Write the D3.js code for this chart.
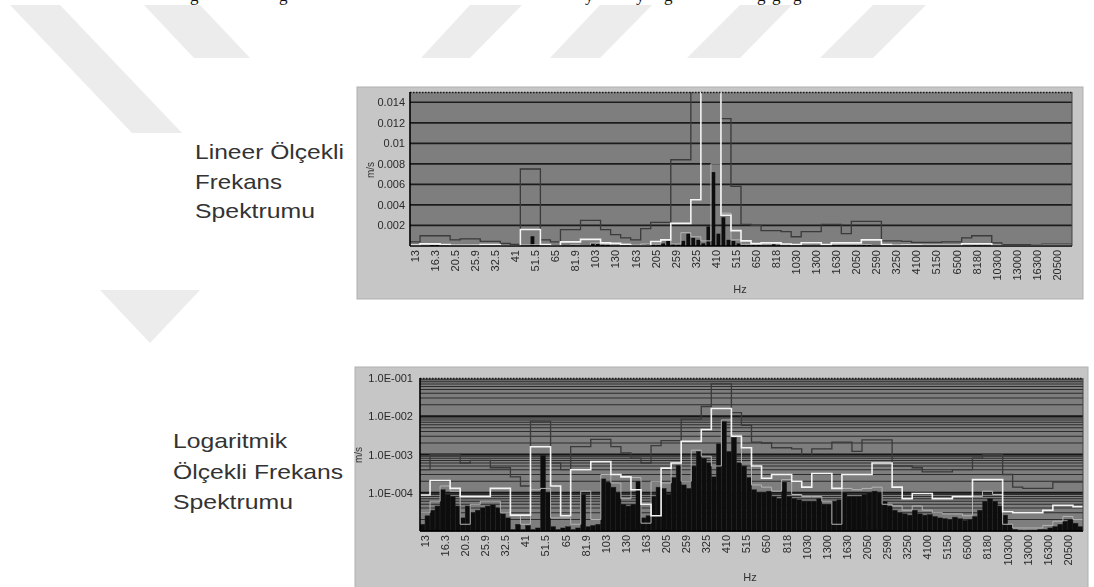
<!DOCTYPE html>
<html>
<head>
<meta charset="utf-8">
<script src="https://cdn.jsdelivr.net/npm/d3@7"></script>
<style>
  html, body { margin: 0; padding: 0; background: #fff; }
  svg { display: block; }
</style>
</head>
<body>
<svg id="page" width="1094" height="587"></svg>
<script>
// 1/3-octave centre frequencies labelled on the x axis (every second 1/6-octave bin)
const bandLabels = ["13","16.3","20.5","25.9","32.5","41","51.5","65","81.9","103","130","163",
  "205","259","325","410","515","650","818","1030","1300","1630","2050","2590","3250","4100",
  "5150","6500","8180","10300","13000","16300","20500"];

// 1/6-octave envelope levels (m/s), dark grey trace
const darkLine = [
  4.0e-4, 1.0e-3, 1.0e-3, 1.0e-3, 6e-4, 7e-4, 7e-4, 4.5e-4, 4.5e-4, 2.6e-4,
  1.5e-4, 7.5e-3, 7.5e-3, 6e-4, 4e-4, 1.6e-3, 1.6e-3, 2.5e-3, 2.5e-3, 1.6e-3,
  1.1e-3, 8e-4, 6e-4, 1.7e-3, 2.3e-3, 2.3e-3, 8.4e-3, 8.4e-3, 1.8e-2, 7e-2,
  7e-2, 1.24e-2, 5.8e-3, 2.1e-3, 2.0e-3, 1.5e-3, 1.5e-3, 1.4e-3, 9e-4, 1.4e-3,
  1.4e-3, 2.1e-3, 2.1e-3, 1.2e-3, 2.4e-3, 2.4e-3, 2.4e-3, 5e-4, 5e-4, 4.5e-4,
  3.5e-4, 3.5e-4, 3.5e-4, 4e-4, 4e-4, 8e-4, 1.0e-3, 1.0e-3, 3e-4, 1.4e-4,
  1.3e-4, 1.3e-4, 1.3e-4, 1.9e-4, 1.9e-4, 1.9e-4];

// 1/6-octave levels (m/s), white trace
const whiteLine = [
  8.7e-5, 2.1e-4, 2.1e-4, 1.3e-4, 8e-5, 8e-5, 8e-5, 1.3e-4, 1.3e-4, 2.6e-5,
  2.6e-5, 1.6e-3, 1.6e-3, 1.5e-4, 2.5e-5, 4e-4, 4e-4, 6.5e-4, 6.5e-4, 3e-4,
  2.6e-4, 1.2e-4, 5e-5, 2.5e-5, 4.4e-4, 6e-4, 2.2e-3, 2.2e-3, 4.5e-3, 1.6e-2,
  1.6e-2, 3e-3, 1.5e-3, 5e-4, 2.4e-4, 3e-4, 3e-4, 2e-4, 1.4e-4, 3.2e-4,
  3.2e-4, 1.3e-4, 3e-4, 3e-4, 3e-4, 6e-4, 6e-4, 1.4e-4, 7e-5, 9.6e-5,
  9.6e-5, 7e-5, 7e-5, 8e-5, 8e-5, 2.2e-4, 2.2e-4, 2.2e-4, 3.2e-5, 3e-5,
  3e-5, 3e-5, 3.5e-5, 4.7e-5, 4.7e-5, 4.3e-5];

// 1/6-octave levels (m/s), light grey trace
const lightLine = [
  3e-5, 6e-5, 1.5e-4, 1.1e-4, 1.5e-5, 5e-5, 6e-5, 6e-5, 3e-5, 2.5e-5,
  1.5e-5, 1.2e-4, 1.3e-4, 2.2e-5, 2.2e-5, 1.5e-5, 1.1e-4, 2e-5, 3e-4, 1.8e-4,
  7e-5, 2.5e-4, 1.6e-5, 2e-4, 1.8e-4, 6e-4, 2e-4, 1.3e-3, 9e-4, 5e-4,
  8e-3, 3.2e-3, 6e-4, 1.6e-4, 1.4e-4, 1.1e-4, 2.2e-4, 9e-5, 8e-5, 8e-5,
  6e-5, 1.5e-5, 1.3e-4, 1.2e-4, 1.3e-4, 1.4e-4, 5e-5, 4.5e-5, 3.5e-5, 4.5e-5,
  3.5e-5, 3e-5, 2.8e-5, 2.8e-5, 2.5e-5, 8e-5, 1.1e-4, 9e-5, 1.5e-5, 1.2e-5,
  1.2e-5, 1.2e-5, 1.4e-5, 1.8e-5, 2.4e-5, 2e-5];

// 1/12-octave spectrum (m/s), black bars
const blackBars = [
  1.5e-5, 2.5e-5, 3.5e-5, 4.5e-5, 1.2e-4, 9e-5, 8e-5, 4.5e-5, 2.2e-5, 4.5e-5,
  3e-5, 3.5e-5, 4e-5, 4.5e-5, 4.8e-5, 4e-5, 2.8e-5, 2.2e-5, 1.1e-5, 1.5e-5,
  1.1e-5, 1.4e-5, 1.1e-5, 1.2e-5, 9.5e-4, 1.0e-4, 1.3e-5, 1.1e-5, 1.2e-5, 1.3e-5,
  1.1e-5, 1.2e-5, 9e-5, 1.3e-5, 1.4e-5, 1.5e-5, 2.3e-4, 1.9e-4, 1.4e-4, 1.0e-4,
  5e-5, 4.5e-5, 5e-5, 2.0e-4, 2.2e-5, 2.5e-5, 8e-5, 1.4e-4, 1.3e-4, 9e-5,
  2.5e-4, 5.2e-4, 1.6e-4, 1.3e-4, 5e-4, 1.2e-3, 8e-4, 6e-4, 2.6e-4, 1.9e-3,
  7.2e-3, 1.2e-3, 2.8e-3, 6e-4, 5e-4, 2.5e-4, 1.2e-4, 1.0e-4, 1.0e-4, 1.1e-4,
  8e-5, 7e-5, 1.9e-4, 8e-5, 7e-5, 6.5e-5, 6e-5, 6e-5, 6e-5, 7e-5,
  5e-5, 5e-5, 6e-5, 6.5e-5, 1.0e-4, 8e-5, 8e-5, 8e-5, 9e-5, 1.0e-4,
  1.1e-4, 1.0e-4, 6e-5, 4.5e-5, 3.5e-5, 3e-5, 2.8e-5, 2.6e-5, 3.5e-5, 2.8e-5,
  2.6e-5, 2.7e-5, 2.4e-5, 2.2e-5, 2.1e-5, 2.0e-5, 2.3e-5, 2.1e-5, 1.9e-5, 2.0e-5,
  2.4e-5, 3.5e-5, 6e-5, 7e-5, 6e-5, 4.5e-5, 2.6e-5, 1.5e-5, 1.1e-5, 1.05e-5,
  1.0e-5, 1.05e-5, 1.05e-5, 1.1e-5, 1.1e-5, 1.2e-5, 1.3e-5, 1.5e-5, 1.8e-5, 2.0e-5,
  1.6e-5, 1.3e-5];

const linearTicks = [0.002, 0.004, 0.006, 0.008, 0.01, 0.012, 0.014];
const logTicks = [1e-4, 1e-3, 1e-2, 1e-1];
const logTickLabels = ["1.0E-004", "1.0E-003", "1.0E-002", "1.0E-001"];

const captionLinear = ["Lineer Ölçekli", "Frekans", "Spektrumu"];
const captionLog = ["Logaritmik", "Ölçekli Frekans", "Spektrumu"];

const svg = d3.select("#page");
const W = 1094, H = 587;
const defs = svg.append("defs");
defs.append("filter").attr("id", "soft")
  .attr("x", "-2%").attr("y", "-2%").attr("width", "104%").attr("height", "104%")
  .append("feGaussianBlur").attr("stdDeviation", 0.55);

svg.append("rect").attr("width", W).attr("height", H).attr("fill", "#fff");

// faint diagonal background strokes of the page
const stripes = [
  [[10, 5], [60, 5], [182, 133], [132, 133]],
  [[144, 5], [200, 5], [250, 58], [194, 58]],
  [[470, 5], [522, 5], [470, 58], [421, 58]],
  [[600, 5], [652, 5], [600, 58], [550, 58]],
  [[740, 5], [792, 5], [740, 58], [687, 58]],
  [[873, 5], [926, 5], [873, 58], [820, 58]],
  [[100, 290], [200, 290], [150, 343]]
];
svg.append("g").attr("fill", "#ececec")
  .selectAll("polygon").data(stripes).join("polygon")
  .attr("points", d => d.map(p => p.join(",")).join(" "));

// tail of the preceding text line, cut at the top edge
const topLine = svg.append("g")
  .attr("font-family", "'Liberation Serif', 'DejaVu Serif', serif")
  .attr("font-size", 17).attr("fill", "#111");
[["ğ", 190], ["g", 279], ["y", 585], ["y", 636], ["g", 664], ["g", 757], ["g", 772], ["g", 793]]
  .forEach(([t, x]) => topLine.append("text").attr("x", x).attr("y", 0.5).text(t));

// captions to the left of each chart
function caption(lines, x, baselines, widths) {
  const g = svg.append("g")
    .attr("font-family", "'Liberation Sans', Arial, sans-serif")
    .attr("font-size", 21).attr("fill", "#333");
  lines.forEach((t, i) => {
    g.append("text").attr("x", x).attr("y", baselines[i])
      .attr("textLength", widths[i]).attr("lengthAdjust", "spacingAndGlyphs")
      .text(t);
  });
}
caption(captionLinear, 195, [159, 189, 218], [149, 87, 120]);
caption(captionLog, 173, [448, 479, 509], [114, 170, 120]);

let clipCount = 0;
function drawChart(o) {
  const g = svg.append("g").attr("filter", "url(#soft)")
    .attr("font-family", "'Liberation Sans', Arial, sans-serif");
  const { l, t, r, b } = o.plot;

  g.append("rect").attr("x", o.panel[0]).attr("y", o.panel[1])
    .attr("width", o.panel[2]).attr("height", o.panel[3])
    .attr("fill", "#c6c6c6").attr("stroke", "#b0b0b0").attr("stroke-width", 1);
  g.append("rect").attr("x", l).attr("y", t).attr("width", r - l).attr("height", b - t)
    .attr("fill", "#7e7e7e");

  const x = d3.scaleBand().domain(d3.range(darkLine.length)).range([l, r]);
  const xs = d3.scaleBand().domain(d3.range(blackBars.length)).range([l, r])
    .paddingInner(o.barPad);
  const y = o.y;

  // horizontal grid
  const grid = g.append("g");
  if (o.log) {
    const minor = y.ticks().filter(v => !logTicks.some(m => Math.abs(m - v) / m < 1e-6));
    grid.selectAll("line.minor").data(minor).join("line")
      .attr("x1", l).attr("x2", r).attr("y1", d => y(d)).attr("y2", d => y(d))
      .attr("stroke", "#2e2e2e").attr("stroke-width", 1.1);
    grid.selectAll("line.major").data(logTicks.slice(0, 3)).join("line")
      .attr("x1", l).attr("x2", r).attr("y1", d => y(d)).attr("y2", d => y(d))
      .attr("stroke", "#141414").attr("stroke-width", 1.8);
  } else {
    grid.selectAll("line").data(linearTicks).join("line")
      .attr("x1", l).attr("x2", r).attr("y1", d => y(d)).attr("y2", d => y(d))
      .attr("stroke", "#1c1c1c").attr("stroke-width", 1.7);
  }

  const clipId = "plotclip" + (clipCount++);
  defs.append("clipPath").attr("id", clipId)
    .append("rect").attr("x", l).attr("y", t).attr("width", r - l).attr("height", b - t);
  const marks = g.append("g").attr("clip-path", `url(#${clipId})`);

  marks.selectAll("rect.bar").data(blackBars).join("rect").attr("class", "bar")
    .attr("x", (d, i) => xs(i)).attr("width", xs.bandwidth())
    .attr("y", d => y(d)).attr("height", d => Math.max(0, b - y(d)))
    .attr("fill", "#0b0b0b").attr("stroke", o.log ? "#262626" : "none")
    .attr("stroke-width", 0.5);

  const steps = arr => arr.flatMap((v, i) => [[x(i), v], [x(i) + x.bandwidth(), v]]);
  const line = d3.line().x(p => p[0]).y(p => y(p[1]));
  marks.append("path").attr("d", line(steps(lightLine)))
    .attr("fill", "none").attr("stroke", "#b4b4b4").attr("stroke-width", 1);
  marks.append("path").attr("d", line(steps(darkLine)))
    .attr("fill", "none").attr("stroke", "#3a3a3a").attr("stroke-width", 1.3);
  marks.append("path").attr("d", line(steps(whiteLine)))
    .attr("fill", "none").attr("stroke", "#f4f4f4").attr("stroke-width", 1.6);

  // frame: dotted top edge, solid axes
  g.append("line").attr("x1", l).attr("x2", r).attr("y1", t + 0.5).attr("y2", t + 0.5)
    .attr("stroke", "#1a1a1a").attr("stroke-width", 1.4).attr("stroke-dasharray", "1.5,1.5");
  g.append("line").attr("x1", r).attr("x2", r).attr("y1", t).attr("y2", b)
    .attr("stroke", "#444").attr("stroke-width", 1);
  g.append("line").attr("x1", l).attr("x2", l).attr("y1", t).attr("y2", b)
    .attr("stroke", "#000").attr("stroke-width", 1.6);
  g.append("line").attr("x1", l).attr("x2", r).attr("y1", b).attr("y2", b)
    .attr("stroke", "#000").attr("stroke-width", 1.6);

  // y axis labels
  const yAxis = o.log
    ? d3.axisLeft(y).tickValues(logTicks).tickFormat((d, i) => logTickLabels[i])
    : d3.axisLeft(y).tickValues(linearTicks).tickFormat(d => String(+d.toFixed(3)));
  const ya = g.append("g").attr("transform", `translate(${l},0)`)
    .call(yAxis.tickSize(0).tickPadding(o.yPad));
  ya.select(".domain").remove();
  ya.selectAll("text").attr("font-size", 11).attr("fill", "#2a2a2a")
    .attr("font-family", "'Liberation Sans', Arial, sans-serif");

  // x axis labels, rotated
  const xa = g.append("g").attr("transform", `translate(0,${b})`)
    .call(d3.axisBottom(x).tickValues(d3.range(0, darkLine.length, 2))
      .tickFormat(i => bandLabels[i / 2]).tickSize(0));
  xa.select(".domain").remove();
  xa.selectAll("text")
    .attr("transform", "rotate(-90)").attr("text-anchor", "end")
    .attr("x", -4).attr("y", 0).attr("dy", "0.35em")
    .attr("font-size", 11).attr("fill", "#2a2a2a")
    .attr("font-family", "'Liberation Sans', Arial, sans-serif");

  g.append("text").attr("x", o.hz[0]).attr("y", o.hz[1]).attr("text-anchor", "middle")
    .attr("font-size", 11).attr("fill", "#333").text("Hz");
  g.append("text").attr("transform", `translate(${o.unit[0]},${o.unit[1]}) rotate(-90)`)
    .attr("text-anchor", "middle").attr("dy", "0.35em")
    .attr("font-size", 10).attr("fill", "#333").text("m/s");
}

drawChart({
  panel: [357, 87, 726, 212],
  plot: { l: 410, t: 92, r: 1072, b: 246 },
  y: d3.scaleLinear().domain([0, 0.015]).range([246, 92]),
  log: false, barPad: 0.25, yPad: 5,
  hz: [740, 293], unit: [370, 170]
});

drawChart({
  panel: [355, 367, 733, 230],
  plot: { l: 420, t: 378, r: 1083, b: 531 },
  y: d3.scaleLog().domain([1e-5, 1e-1]).range([531, 378]),
  log: true, barPad: 0, yPad: 7,
  hz: [750, 581], unit: [358, 455]
});
</script>
</body>
</html>
